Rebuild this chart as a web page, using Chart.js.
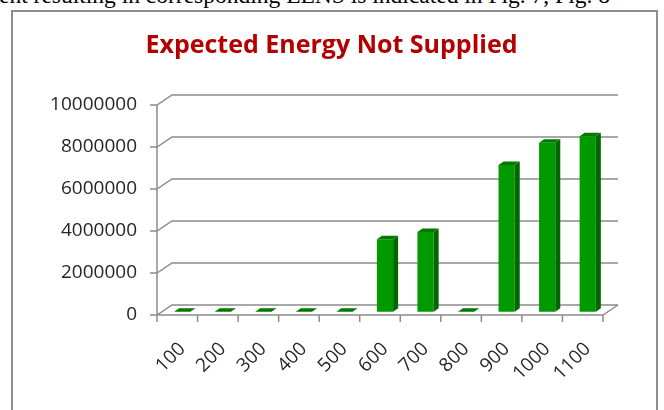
<!DOCTYPE html>
<html>
<head>
<meta charset="utf-8">
<script src="https://cdn.jsdelivr.net/npm/chart.js@4"></script>
<style>
    body { margin: 0; background: #fff; overflow: hidden; }
    .page { position: relative; width: 664px; height: 410px; overflow: hidden; }
    .caption {
        position: absolute; left: -1px; top: -18px; white-space: nowrap;
        font-family: "Liberation Serif", serif; font-size: 23.5px; color: #000;
    }
    .frame {
        position: absolute; left: 11px; top: 10px; width: 643px; height: 430px;
        border: 2px solid #8e8e8e;
    }
    .chart-box { position: absolute; left: 0; top: 0; width: 664px; height: 410px; }
</style>
</head>
<body>
<div class="page">
    <div class="caption">ent resulting in corresponding EENS is indicated in Fig. 7, Fig. 8</div>
    <div class="frame"></div>
    <div class="chart-box"><canvas id="eensChart"></canvas></div>
</div>
<script>
// Chart data
const categories = ['100', '200', '300', '400', '500', '600', '700', '800', '900', '1000', '1100'];
const eensValues = [0, 0, 0, 0, 0, 3450000, 3800000, 0, 6980000, 8040000, 8350000];
const yTicks = [0, 2000000, 4000000, 6000000, 8000000, 10000000];

// 3D look: floor depth, where the bars sit in it, and bar depth
const floorDepth = { dx: 15, dy: 10 };
const barShift = { dx: 5, dy: -3.3 };
const barSide = { dx: 5, dy: 3.5 };
const gridColor = '#8c8c8c';

const walls3d = {
    id: 'walls3d',
    beforeDatasetsDraw(chart) {
        const { ctx, chartArea: a, scales: { y } } = chart;
        ctx.save();
        ctx.strokeStyle = gridColor;
        ctx.lineWidth = 1.5;
        ctx.beginPath();
        yTicks.forEach(v => {
            const py = y.getPixelForValue(v);
            ctx.moveTo(a.left - 7, py);
            ctx.lineTo(a.left, py);
            ctx.lineTo(a.left + floorDepth.dx, py - floorDepth.dy);
            ctx.lineTo(a.right + floorDepth.dx, py - floorDepth.dy);
        });
        // front axis + floor edge
        ctx.moveTo(a.left, a.top);
        ctx.lineTo(a.left, a.bottom);
        ctx.lineTo(a.right, a.bottom);
        ctx.lineTo(a.right + floorDepth.dx, a.bottom - floorDepth.dy);
        // category tick marks
        const step = (a.right - a.left) / categories.length;
        for (let i = 0; i <= categories.length; i++) {
            const px = a.left + i * step;
            ctx.moveTo(px, a.bottom);
            ctx.lineTo(px, a.bottom + 7);
        }
        ctx.stroke();
        ctx.restore();

        // bars stand in the middle of the floor
        ctx.save();
        ctx.translate(barShift.dx, barShift.dy);
    },
    afterDatasetsDraw(chart) {
        const ctx = chart.ctx;
        chart.getDatasetMeta(0).data.forEach(bar => {
            const { x, y, base, width } = bar.getProps(['x', 'y', 'base', 'width'], true);
            const l = x - width / 2;
            const r = x + width / 2;
            // side face
            ctx.fillStyle = '#006800';
            ctx.beginPath();
            ctx.moveTo(r, y);
            ctx.lineTo(r + barSide.dx, y - barSide.dy);
            ctx.lineTo(r + barSide.dx, base - barSide.dy);
            ctx.lineTo(r, base);
            ctx.closePath();
            ctx.fill();
            // top face
            ctx.fillStyle = '#007a00';
            ctx.beginPath();
            ctx.moveTo(l, y);
            ctx.lineTo(l + barSide.dx, y - barSide.dy);
            ctx.lineTo(r + barSide.dx, y - barSide.dy);
            ctx.lineTo(r, y);
            ctx.closePath();
            ctx.fill();
        });
        ctx.restore();
    }
};

const ctx = document.getElementById('eensChart').getContext('2d');
new Chart(ctx, {
    type: 'bar',
    data: {
        labels: categories,
        datasets: [{
            data: eensValues,
            backgroundColor: '#009a00',
            borderWidth: 0,
            barPercentage: 0.4,
            categoryPercentage: 1,
            clip: false
        }]
    },
    options: {
        responsive: true,
        maintainAspectRatio: false,
        animation: false,
        layout: {
            padding: { left: 0, right: 1, top: 0, bottom: 0 }
        },
        plugins: {
            legend: { display: false },
            tooltip: { enabled: false },
            title: {
                display: true,
                text: 'Expected Energy Not Supplied',
                color: '#b30000',
                font: { family: 'Open Sans', size: 25, weight: 'bold' },
                padding: { top: 31, bottom: 44 }
            }
        },
        scales: {
            y: {
                min: 0,
                max: 10000000,
                afterFit: s => { s.width = 157; },
                afterBuildTicks: s => { s.ticks = yTicks.map(v => ({ value: v })); },
                grid: { display: false, drawTicks: false },
                border: { display: false },
                ticks: {
                    padding: 20,
                    color: '#262626',
                    font: { family: 'Open Sans', size: 19 },
                    callback: v => String(v)
                }
            },
            // empty right-hand space for the 3D depth, keeps the title centred
            yRight: {
                position: 'right',
                afterFit: s => { s.width = 60; },
                grid: { display: false, drawTicks: false },
                border: { display: false },
                ticks: { display: false }
            },
            x: {
                afterFit: s => { s.height = 95; },
                grid: { display: false, drawTicks: false },
                border: { display: false },
                ticks: {
                    autoSkip: false,
                    minRotation: 45,
                    maxRotation: 45,
                    padding: 23,
                    labelOffset: 5,
                    color: '#262626',
                    font: { family: 'Open Sans', size: 19 }
                }
            }
        }
    },
    plugins: [walls3d]
});
</script>
</body>
</html>
